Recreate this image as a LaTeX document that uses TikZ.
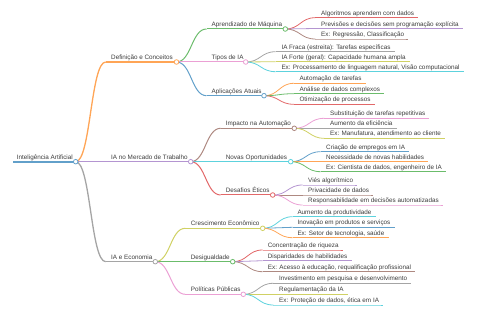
\documentclass[tikz,border=0pt]{standalone}
\usepackage{fontspec}
\setmainfont{Liberation Sans}
\definecolor{k0}{HTML}{1F77B4}
\definecolor{k1}{HTML}{FF7F0E}
\definecolor{k2}{HTML}{2CA02C}
\definecolor{k3}{HTML}{D62728}
\definecolor{k4}{HTML}{9467BD}
\definecolor{k5}{HTML}{8C564B}
\definecolor{k6}{HTML}{E377C2}
\definecolor{k7}{HTML}{7F7F7F}
\definecolor{k8}{HTML}{BCBD22}
\definecolor{k9}{HTML}{17BECF}
\definecolor{txt}{RGB}{60,60,60}
\tikzset{
  mmtext/.style={inner sep=0pt, anchor=base west, text=txt, font=\fontsize{6.33}{7}\selectfont},
  lw0/.style={line width=1.9pt},
  lw1/.style={line width=1.3pt},
  lw2/.style={line width=1pt},
  lw3/.style={line width=0.8pt},
  mmdot/.style={line width=0.8pt, fill=white}
}
% name, colour, width style, line start x, y, text x, circle x, text
\newcommand\mmbranch[8]{%
  \coordinate (#1s) at (#4,#5);
  \coordinate (#1e) at (#7,#5);
  \node[mmtext] (#1) at (#6,#5-2.3) {#8};
  \draw[#2!70!white, #3] (#1s) -- (#1e);
}
% name, colour, line start x, y, text x, text
\newcommand\mmleaf[6]{%
  \coordinate (#1s) at (#3,#4);
  \node[mmtext] (#1) at (#5,#4-2.3) {#6};
  \draw[#2!70!white, lw3] (#1s) -- (#1s -| #1.base east) -- ++(4,0);
}
% parent, child, colour, width style
\newcommand\mmlink[4]{%
  \draw[#3!70!white, #4] (#1e) .. controls +(15,0) and +(-15,0) .. (#2s);
}
\newcommand\mmcircle[2]{%
  \draw[#2!70!white, mmdot] (#1e) circle (2.3pt);
}
\begin{document}
\begin{tikzpicture}[x=1pt,y=-1pt]
\useasboundingbox (0,0) rectangle (480,320);
% root and level 1
\mmbranch{r}{k0}{lw0}{13}{161.7}{16.7}{75.7}{Inteligência Artificial}
\mmbranch{a}{k1}{lw1}{105.7}{62}{111}{176.5}{Definição e Conceitos}
\mmbranch{b}{k4}{lw1}{105.7}{161.7}{111}{190.7}{IA no Mercado de Trabalho}
\mmbranch{c}{k7}{lw1}{105.7}{261.7}{111}{155.3}{IA e Economia}
% level 2
\mmbranch{a1}{k2}{lw2}{206.5}{29}{211.5}{285.3}{Aprendizado de Máquina}
\mmbranch{a2}{k6}{lw2}{206.5}{62}{211.5}{245.7}{Tipos de IA}
\mmbranch{a3}{k0}{lw2}{206.5}{95.7}{211.5}{264}{Aplicações Atuais}
\mmbranch{b1}{k5}{lw2}{220.7}{128.3}{225.7}{294.3}{Impacto na Automação}
\mmbranch{b2}{k9}{lw2}{220.7}{161.7}{225.7}{290.7}{Novas Oportunidades}
\mmbranch{b3}{k3}{lw2}{220.7}{195}{225.7}{272.7}{Desafios Éticos}
\mmbranch{c1}{k8}{lw2}{185.3}{228.3}{190.7}{262.7}{Crescimento Econômico}
\mmbranch{c2}{k2}{lw2}{185.3}{261.7}{190.7}{232.7}{Desigualdade}
\mmbranch{c3}{k6}{lw2}{185.3}{294.3}{190.7}{243.3}{Políticas Públicas}
% leaves
\mmleaf{a11}{k3}{315.3}{17.7}{321}{Algoritmos aprendem com dados}
\mmleaf{a12}{k4}{315.3}{28.5}{321}{Previsões e decisões sem programação explícita}
\mmleaf{a13}{k5}{315.3}{39}{321}{Ex: Regressão, Classificação}
\mmleaf{a21}{k7}{275.7}{51.7}{281.3}{IA Fraca (estreita): Tarefas específicas}
\mmleaf{a22}{k8}{275.7}{61.7}{281.3}{IA Forte (geral): Capacidade humana ampla}
\mmleaf{a23}{k9}{275.7}{71.7}{281.3}{Ex: Processamento de linguagem natural, Visão computacional}
\mmleaf{a31}{k1}{294}{83.3}{299.3}{Automação de tarefas}
\mmleaf{a32}{k2}{294}{93.7}{299.3}{Análise de dados complexos}
\mmleaf{a33}{k3}{294}{104.3}{299.3}{Otimização de processos}
\mmleaf{b11}{k6}{324.3}{118.3}{330}{Substituição de tarefas repetitivas}
\mmleaf{b12}{k7}{324.3}{128.3}{330}{Aumento da eficiência}
\mmleaf{b13}{k8}{324.3}{138.3}{330}{Ex: Manufatura, atendimento ao cliente}
\mmleaf{b21}{k0}{320.7}{151.7}{326}{Criação de empregos em IA}
\mmleaf{b22}{k1}{320.7}{161.7}{326}{Necessidade de novas habilidades}
\mmleaf{b23}{k2}{320.7}{171.7}{326}{Ex: Cientista de dados, engenheiro de IA}
\mmleaf{b31}{k4}{302.7}{185}{308}{Viés algorítmico}
\mmleaf{b32}{k5}{302.7}{195}{308}{Privacidade de dados}
\mmleaf{b33}{k6}{302.7}{205}{308}{Responsabilidade em decisões automatizadas}
\mmleaf{c11}{k9}{292.7}{216.7}{297.3}{Aumento da produtividade}
\mmleaf{c12}{k0}{292.7}{227.3}{297.3}{Inovação em produtos e serviços}
\mmleaf{c13}{k1}{292.7}{237.7}{297.3}{Ex: Setor de tecnologia, saúde}
\mmleaf{c21}{k3}{262.7}{250}{267.7}{Concentração de riqueza}
\mmleaf{c22}{k4}{262.7}{260.7}{267.7}{Disparidades de habilidades}
\mmleaf{c23}{k5}{262.7}{271.7}{267.7}{Ex: Acesso à educação, requalificação profissional}
\mmleaf{c31}{k7}{273.3}{283.3}{279}{Investimento em pesquisa e desenvolvimento}
\mmleaf{c32}{k8}{273.3}{294.3}{279}{Regulamentação da IA}
\mmleaf{c33}{k9}{273.3}{305}{279}{Ex: Proteção de dados, ética em IA}
% links
\mmlink{r}{a}{k1}{lw1}
\mmlink{r}{b}{k4}{lw1}
\mmlink{r}{c}{k7}{lw1}
\mmlink{a}{a1}{k2}{lw2}
\mmlink{a}{a2}{k6}{lw2}
\mmlink{a}{a3}{k0}{lw2}
\mmlink{b}{b1}{k5}{lw2}
\mmlink{b}{b2}{k9}{lw2}
\mmlink{b}{b3}{k3}{lw2}
\mmlink{c}{c1}{k8}{lw2}
\mmlink{c}{c2}{k2}{lw2}
\mmlink{c}{c3}{k6}{lw2}
\mmlink{a1}{a11}{k3}{lw3}
\mmlink{a1}{a12}{k4}{lw3}
\mmlink{a1}{a13}{k5}{lw3}
\mmlink{a2}{a21}{k7}{lw3}
\mmlink{a2}{a22}{k8}{lw3}
\mmlink{a2}{a23}{k9}{lw3}
\mmlink{a3}{a31}{k1}{lw3}
\mmlink{a3}{a32}{k2}{lw3}
\mmlink{a3}{a33}{k3}{lw3}
\mmlink{b1}{b11}{k6}{lw3}
\mmlink{b1}{b12}{k7}{lw3}
\mmlink{b1}{b13}{k8}{lw3}
\mmlink{b2}{b21}{k0}{lw3}
\mmlink{b2}{b22}{k1}{lw3}
\mmlink{b2}{b23}{k2}{lw3}
\mmlink{b3}{b31}{k4}{lw3}
\mmlink{b3}{b32}{k5}{lw3}
\mmlink{b3}{b33}{k6}{lw3}
\mmlink{c1}{c11}{k9}{lw3}
\mmlink{c1}{c12}{k0}{lw3}
\mmlink{c1}{c13}{k1}{lw3}
\mmlink{c2}{c21}{k3}{lw3}
\mmlink{c2}{c22}{k4}{lw3}
\mmlink{c2}{c23}{k5}{lw3}
\mmlink{c3}{c31}{k7}{lw3}
\mmlink{c3}{c32}{k8}{lw3}
\mmlink{c3}{c33}{k9}{lw3}
% circles
\mmcircle{r}{k0}
\mmcircle{a}{k1}
\mmcircle{b}{k4}
\mmcircle{c}{k7}
\mmcircle{a1}{k2}
\mmcircle{a2}{k6}
\mmcircle{a3}{k0}
\mmcircle{b1}{k5}
\mmcircle{b2}{k9}
\mmcircle{b3}{k3}
\mmcircle{c1}{k8}
\mmcircle{c2}{k2}
\mmcircle{c3}{k6}
\end{tikzpicture}
\end{document}
